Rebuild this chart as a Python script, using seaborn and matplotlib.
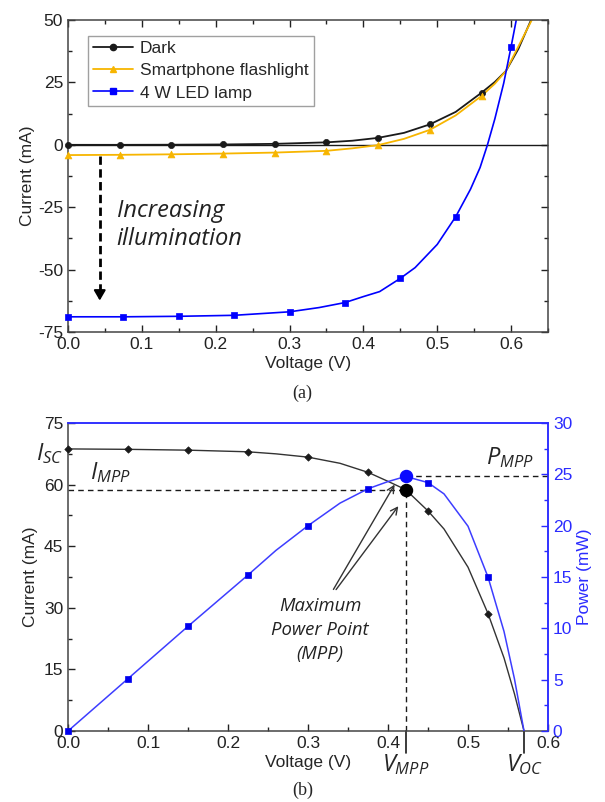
import matplotlib

matplotlib.use("Agg")

import matplotlib.pyplot as plt
from matplotlib.lines import Line2D
from matplotlib.ticker import MultipleLocator
import pandas as pd
import seaborn as sns


# ---- panel (a): I-V curves, measured points (markers) ----
DARK_V = [0.0, 0.07, 0.14, 0.21, 0.28, 0.35, 0.42, 0.49, 0.56]
DARK_I = [0.0, 0.0, 0.05, 0.15, 0.4, 1.0, 2.8, 8.2, 20.9]
FLASH_I = [-4.1, -4.0, -3.8, -3.5, -3.1, -2.4, -0.1, 6.0, 19.6]
LED_V = [0.0, 0.075, 0.15, 0.225, 0.3, 0.375, 0.45, 0.525, 0.6]
LED_I = [-68.9, -68.9, -68.7, -68.3, -66.9, -63.2, -53.5, -28.8, 39.3]

# extra points (no markers)
DARK_TRACE_V = [0.385, 0.455, 0.525, 0.578, 0.593, 0.61, 0.627]
DARK_TRACE_I = [1.65, 4.8, 13.2, 25.2, 29.6, 38.5, 50.0]
FLASH_TRACE_V = [0.385, 0.455, 0.525, 0.578, 0.593, 0.61, 0.628]
FLASH_TRACE_I = [-1.4, 2.4, 11.8, 24.5, 29.6, 39.5, 50.0]
LED_TRACE_V = [0.34, 0.40, 0.422, 0.47, 0.50, 0.545, 0.558, 0.568, 0.578, 0.59, 0.607]
LED_TRACE_I = [-65.2, -60.8, -58.8, -49.2, -39.9, -17.8, -9.1, 0.0, 10.4, 24.7, 50.0]

# ---- panel (b): I-V and P-V of the 4 W LED lamp case ----
CELL_V = [0.0, 0.075, 0.15, 0.225, 0.3, 0.375, 0.45, 0.525]
CELL_I = [68.7, 68.6, 68.4, 68.0, 66.7, 63.0, 53.6, 28.6]
CELL_P = [0.0, 5.1, 10.2, 15.2, 20.0, 23.6, 24.2, 15.0]
CELL_TRACE_V = [0.26, 0.34, 0.40, 0.422, 0.47, 0.50, 0.545, 0.558, 0.57]
CELL_TRACE_I = [67.5, 65.2, 60.8, 58.8, 49.2, 39.9, 17.8, 9.1, 0.0]
CELL_TRACE_P = [17.6, 22.2, 24.3, 24.8, 23.1, 19.95, 9.7, 5.1, 0.0]
MPP_V, MPP_I, MPP_P = 0.422, 58.8, 24.8
V_OC = 0.57

LEGEND_LABELS = ["Dark", "Smartphone flashlight", "4 W LED lamp"]

BLACK = "#1a1a1a"
YELLOW = "#f7b500"
BLUE = "#0000ff"
BLUE_B = "#3d3dff"
AXIS_BLUE = "#2b2bff"

sns.set_style("ticks")
plt.rcParams["font.family"] = ["Liberation Sans", "DejaVu Sans"]
plt.rcParams["axes.unicode_minus"] = False
plt.rcParams["mathtext.fontset"] = "custom"
plt.rcParams["mathtext.it"] = "Open Sans:italic"
plt.rcParams["mathtext.rm"] = "Open Sans"
ITALIC = dict(family=["Open Sans", "DejaVu Sans"], style="italic")


def draw_curve(ax, v, y, trace_v, trace_y, color, lw):
    df = pd.DataFrame({"V": list(v) + list(trace_v), "Y": list(y) + list(trace_y)})
    sns.lineplot(data=df, x="V", y="Y", ax=ax, color=color, lw=lw,
                 estimator=None, sort=True, zorder=2)


def draw_marks(ax, v, y, color, marker, size):
    sns.scatterplot(x=v, y=y, ax=ax, color=color, marker=marker, s=size,
                    edgecolor=color, linewidth=0.5, zorder=3, clip_on=False)


def style_ticks(ax):
    ax.tick_params(which="both", direction="in", labelsize=12.5, colors="#222222")
    ax.tick_params(which="major", length=5, width=1)
    ax.tick_params(which="minor", length=3, width=1)
    for sp in ax.spines.values():
        sp.set_linewidth(1.1)
        sp.set_color("#444444")


fig = plt.figure(figsize=(6.05, 8.02), dpi=100)

# ------------------------- panel (a) -------------------------
ax1 = fig.add_axes([0.1124, 0.586, 0.7934, 0.389])
ax1.axhline(0, color=BLACK, lw=1.0, zorder=1)
draw_curve(ax1, DARK_V, DARK_I, DARK_TRACE_V, DARK_TRACE_I, BLACK, 1.3)
draw_curve(ax1, DARK_V, FLASH_I, FLASH_TRACE_V, FLASH_TRACE_I, YELLOW, 1.3)
draw_curve(ax1, LED_V, LED_I, LED_TRACE_V, LED_TRACE_I, BLUE, 1.2)
draw_marks(ax1, DARK_V, DARK_I, BLACK, "o", 20)
draw_marks(ax1, DARK_V, FLASH_I, YELLOW, "^", 24)
draw_marks(ax1, LED_V, LED_I, BLUE, "s", 18)

ax1.set_xlim(0, 0.65)
ax1.set_ylim(-75, 50)
ax1.xaxis.set_major_locator(MultipleLocator(0.1))
ax1.xaxis.set_minor_locator(MultipleLocator(0.05))
ax1.yaxis.set_major_locator(MultipleLocator(25))
ax1.yaxis.set_minor_locator(MultipleLocator(12.5))
ax1.xaxis.set_major_formatter(lambda x, pos: f"{x:.1f}")
style_ticks(ax1)
ax1.tick_params(which="both", top=True, right=True)
ax1.set_xlabel("Voltage (V)", fontsize=12.5, labelpad=3)
ax1.set_ylabel("Current (mA)", fontsize=12.5, labelpad=2)

handles = [
    Line2D([], [], color=BLACK, marker="o", markersize=4.5, lw=1.3),
    Line2D([], [], color=YELLOW, marker="^", markersize=5, lw=1.3),
    Line2D([], [], color=BLUE, marker="s", markersize=4, lw=1.2),
]
leg = ax1.legend(handles, LEGEND_LABELS, loc="upper left",
                 bbox_to_anchor=(0.041, 0.949), fontsize=12.5, frameon=True,
                 fancybox=False, edgecolor="#888888", handlelength=2.3,
                 handletextpad=0.4, borderpad=0.3, labelspacing=0.4,
                 borderaxespad=0)
leg.get_frame().set_linewidth(1.0)

# dashed arrow "Increasing illumination"
ax1.plot([0.043, 0.043], [-4.6, -58], color="black", lw=2, ls=(0, (3, 1.6)), zorder=2)
ax1.annotate("", xy=(0.043, -63.5), xytext=(0.043, -57.5),
             arrowprops=dict(arrowstyle="-|>,head_width=0.35,head_length=0.6",
                             color="black", lw=1.5))
ax1.text(0.066, -32, "Increasing\nillumination", fontsize=17, va="center",
         ha="left", linespacing=1.2, color="#222222", **ITALIC)

fig.text(0.5, 0.51, "(a)", ha="center", va="center", fontsize=13,
         family=["Liberation Serif", "DejaVu Serif"])

# ------------------------- panel (b) -------------------------
ax2 = fig.add_axes([0.1124, 0.0885, 0.7934, 0.384])
ax_r = ax2.twinx()

draw_curve(ax2, CELL_V, CELL_I, CELL_TRACE_V, CELL_TRACE_I, "#333333", 1.0)
draw_marks(ax2, CELL_V, CELL_I, BLACK, "D", 14)
draw_curve(ax_r, CELL_V, CELL_P, CELL_TRACE_V, CELL_TRACE_P, BLUE_B, 1.1)
draw_marks(ax_r, CELL_V, CELL_P, "#0000ee", "s", 14)

# maximum power point markers and guide lines
ax2.scatter([MPP_V], [MPP_I], s=75, color="black", zorder=4)
ax_r.scatter([MPP_V], [MPP_P], s=75, color="#0a0aff", zorder=4)
ax2.plot([0, MPP_V], [MPP_I, MPP_I], color=BLACK, lw=1.0, ls=(0, (4, 3)), zorder=1)
ax2.plot([MPP_V, MPP_V], [0, MPP_I], color=BLACK, lw=1.0, ls=(0, (4, 3)), zorder=1)
ax_r.plot([MPP_V, 0.6], [MPP_P, MPP_P], color=BLACK, lw=1.0, ls=(0, (4, 3)), zorder=1)

ax2.set_xlim(0, 0.6)
ax2.set_ylim(0, 75)
ax_r.set_ylim(0, 30)
ax2.xaxis.set_major_locator(MultipleLocator(0.1))
ax2.xaxis.set_minor_locator(MultipleLocator(0.05))
ax2.yaxis.set_major_locator(MultipleLocator(15))
ax2.yaxis.set_minor_locator(MultipleLocator(7.5))
ax_r.yaxis.set_major_locator(MultipleLocator(5))
ax_r.yaxis.set_minor_locator(MultipleLocator(2.5))
ax2.xaxis.set_major_formatter(lambda x, pos: f"{x:.1f}")
style_ticks(ax2)
style_ticks(ax_r)
ax2.tick_params(which="both", top=False, right=False)
ax_r.tick_params(which="both", colors=AXIS_BLUE, top=True, labeltop=False)
ax_r.xaxis.set_minor_locator(MultipleLocator(0.05))
for side in ("top", "right"):
    ax_r.spines[side].set_color(AXIS_BLUE)
    ax2.spines[side].set_color(AXIS_BLUE)
ax_r.spines["left"].set_visible(False)
ax_r.spines["bottom"].set_visible(False)

ax2.set_xlabel("Voltage (V)", fontsize=12.5, labelpad=3)
ax2.set_ylabel("Current (mA)", fontsize=12.5, labelpad=4)
ax_r.set_ylabel("Power (mW)", fontsize=12.5, color=AXIS_BLUE, labelpad=3)

# labels for characteristic points
ax2.text(-0.006, 67.5, r"$I_{SC}$", ha="right", va="center", fontsize=17,
         clip_on=False)
ax2.text(0.027, 63, r"$I_{MPP}$", ha="left", va="center", fontsize=17)
ax_r.text(0.523, 26.6, r"$P_{MPP}$", ha="left", va="center", fontsize=17)
ax2.text(0.393, -0.11, r"$V_{MPP}$", ha="left", va="center", fontsize=17,
         transform=ax2.get_xaxis_transform(), clip_on=False)
ax2.text(0.548, -0.11, r"$V_{OC}$", ha="left", va="center", fontsize=17,
         transform=ax2.get_xaxis_transform(), clip_on=False)
for xv in (MPP_V, V_OC):
    ax2.plot([xv, xv], [0, -0.07], color=BLACK, lw=1.2, clip_on=False,
             transform=ax2.get_xaxis_transform())

ax2.text(0.315, 24.6, "Maximum\nPower Point\n(MPP)", ha="center", va="center",
         fontsize=13.3, linespacing=1.4, color="#222222", **ITALIC)
arrow = dict(arrowstyle="->,head_width=0.25,head_length=0.5", color="#333333", lw=1.0)
ax2.annotate("", xy=(0.410, 60.6), xytext=(0.330, 33.9), arrowprops=arrow)
ax2.annotate("", xy=(0.415, 55.3), xytext=(0.333, 33.9), arrowprops=arrow)

fig.text(0.5, 0.015, "(b)", ha="center", va="center", fontsize=13,
         family=["Liberation Serif", "DejaVu Serif"])

fig.savefig("out.png", dpi=100)
